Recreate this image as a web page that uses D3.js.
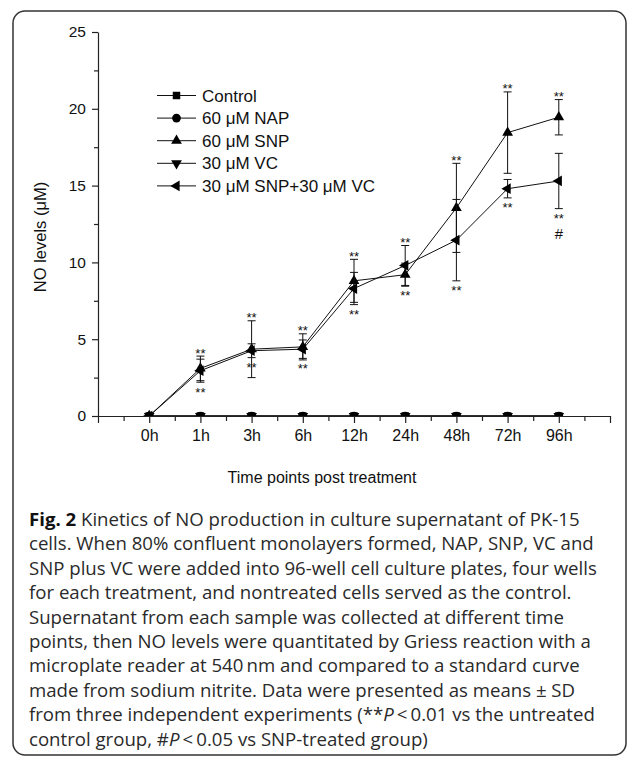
<!DOCTYPE html>
<html>
<head>
<meta charset="utf-8">
<script src="https://cdn.jsdelivr.net/npm/d3@7"></script>
<style>
  body { margin: 0; background: #fff; }
  svg { display: block; }
</style>
</head>
<body>
<svg width="634" height="761"></svg>
<script>
// data
const timePoints = ["0h", "1h", "3h", "6h", "12h", "24h", "48h", "72h", "96h"];
const seriesNames = ["Control", "60 \u03bcM NAP", "60 \u03bcM SNP", "30 \u03bcM VC", "30 \u03bcM SNP+30 \u03bcM VC"];
const controlMean = [0, 0, 0, 0, 0, 0, 0, 0, 0];
const napMean = [0, 0, 0, 0, 0, 0, 0, 0, 0];
const vcMean = [0, 0, 0, 0, 0, 0, 0, 0, 0];
const snpMean = [0, 3.1, 4.35, 4.5, 8.8, 9.2, 13.55, 18.45, 19.45];
const snpSd = [0, 0.8, 1.85, 0.85, 1.4, 0.75, 2.9, 2.65, 1.15];
const snpVcMean = [0, 2.95, 4.25, 4.35, 8.3, 9.8, 11.45, 14.8, 15.3];
const snpVcSd = [0, 0.75, 0.45, 0.6, 1.05, 1.3, 2.65, 0.6, 1.8];
const hashMarks = ["", "", "", "", "", "", "", "", "#"];
const yTicks = [0, 5, 10, 15, 20, 25];

const captionLines = [
  [["b", "Fig. 2"], ["", " Kinetics of NO production in culture supernatant of PK-15"]],
  [["", "cells. When 80% confluent monolayers formed, NAP, SNP, VC and"]],
  [["", "SNP plus VC were added into 96-well cell culture plates, four wells"]],
  [["", "for each treatment, and nontreated cells served as the control."]],
  [["", "Supernatant from each sample was collected at different time"]],
  [["", "points, then NO levels were quantitated by Griess reaction with a"]],
  [["", "microplate reader at 540\u2009nm and compared to a standard curve"]],
  [["", "made from sodium nitrite. Data were presented as means \u00b1 SD"]],
  [["", "from three independent experiments (**"], ["i", "P"], ["", "\u2009<\u20090.01 vs the untreated"]],
  [["", "control group, #"], ["i", "P"], ["", "\u2009<\u20090.05 vs SNP-treated group)"]]
];

const svg = d3.select("svg");
const chartFont = "'Liberation Sans', Arial, sans-serif";

svg.append("rect")
  .attr("x", 13).attr("y", 11)
  .attr("width", 613).attr("height", 744)
  .attr("rx", 12)
  .attr("fill", "none")
  .attr("stroke", "#333")
  .attr("stroke-width", 1.5);

const x = d3.scaleLinear().domain([0, 10]).range([98, 610]);
const y = d3.scaleLinear().domain([0, 25]).range([416, 32]);
const xi = i => x(i + 1);

// axes
const gx = svg.append("g").attr("transform", "translate(0,416)")
  .style("font-family", chartFont);
gx.call(d3.axisBottom(x).tickValues(d3.range(0, 11)).tickSize(7).tickSizeOuter(0)
  .tickPadding(7)
  .tickFormat(d => (d >= 1 && d <= 9) ? timePoints[d - 1] : ""));
gx.append("g").call(d3.axisBottom(x).tickValues(d3.range(0.5, 10, 1)).tickSize(5)
  .tickFormat(""))
  .select(".domain").remove();
gx.selectAll(".tick text").attr("font-size", 16);

const gy = svg.append("g").attr("transform", "translate(98,0)")
  .style("font-family", chartFont);
gy.call(d3.axisLeft(y).tickValues(yTicks).tickSize(6).tickSizeOuter(0).tickPadding(6));
gy.append("g").call(d3.axisLeft(y).tickValues(d3.range(2.5, 25, 5)).tickSize(4)
  .tickFormat(""))
  .select(".domain").remove();
gy.selectAll(".tick text").attr("font-size", 15.5);

svg.selectAll(".tick text").attr("fill", "#111");
svg.selectAll(".domain, .tick line").attr("stroke", "#222").attr("stroke-width", 1.2);

svg.append("text")
  .attr("transform", "translate(46,237) rotate(-90)")
  .attr("text-anchor", "middle")
  .attr("font-family", chartFont).attr("font-size", 16.5).attr("fill", "#111")
  .text("NO levels (\u03bcM)");

svg.append("text")
  .attr("x", 322).attr("y", 483)
  .attr("text-anchor", "middle")
  .attr("font-family", chartFont).attr("font-size", 16).attr("fill", "#111")
  .text("Time points post treatment");

// markers
const sym = {
  square: d3.symbol(d3.symbolSquare, 56)(),
  circle: d3.symbol(d3.symbolCircle, 60)(),
  tri: d3.symbol(d3.symbolTriangle, 50)()
};
const markers = [
  { path: sym.square, rot: 0 },
  { path: sym.circle, rot: 0 },
  { path: sym.tri, rot: 0 },
  { path: sym.tri, rot: 180 },
  { path: sym.tri, rot: -90 }
];

svg.append("clipPath").attr("id", "plotClip")
  .append("rect").attr("x", 98).attr("y", 20).attr("width", 520).attr("height", 396);

const plot = svg.append("g").attr("clip-path", "url(#plotClip)");
const line = d3.line().x((d, i) => xi(i)).y(d => y(d));

const series = [
  { mean: controlMean, sd: null, m: markers[0] },
  { mean: napMean, sd: null, m: markers[1] },
  { mean: vcMean, sd: null, m: markers[3] },
  { mean: snpMean, sd: snpSd, m: markers[2] },
  { mean: snpVcMean, sd: snpVcSd, m: markers[4] }
];

series.forEach(s => {
  if (s.sd) {
    const eb = plot.append("g").attr("stroke", "#111").attr("stroke-width", 1);
    s.mean.forEach((v, i) => {
      if (!s.sd[i]) return;
      const cx = xi(i);
      eb.append("line").attr("x1", cx).attr("x2", cx)
        .attr("y1", y(v - s.sd[i])).attr("y2", y(v + s.sd[i]));
      [v - s.sd[i], v + s.sd[i]].forEach(e => {
        eb.append("line").attr("x1", cx - 4).attr("x2", cx + 4)
          .attr("y1", y(e)).attr("y2", y(e));
      });
    });
  }
  plot.append("path").datum(s.mean)
    .attr("d", line).attr("fill", "none")
    .attr("stroke", "#111").attr("stroke-width", 1);
  plot.selectAll(null).data(s.mean).join("path")
    .attr("d", s.m.path)
    .attr("transform", (d, i) => `translate(${xi(i)},${y(d)}) rotate(${s.m.rot})`)
    .attr("fill", "#000");
});

// significance marks
const sig = svg.append("g").attr("font-family", chartFont).attr("fill", "#111")
  .attr("text-anchor", "middle");
timePoints.forEach((t, i) => {
  if (i === 0) return;
  const top = Math.max(snpMean[i] + snpSd[i], snpVcMean[i] + snpVcSd[i]);
  const bottom = snpVcMean[i] - snpVcSd[i];
  sig.append("text").attr("x", xi(i)).attr("y", y(top) + 1.5)
    .attr("font-size", 13).text("**");
  sig.append("text").attr("x", xi(i)).attr("y", y(bottom) + 14.5)
    .attr("font-size", 13).text("**");
  if (hashMarks[i]) {
    sig.append("text").attr("x", xi(i)).attr("y", y(bottom) + 30)
      .attr("font-size", 15).text(hashMarks[i]);
  }
});

// legend
const legend = svg.append("g").attr("font-family", chartFont);
seriesNames.forEach((name, k) => {
  const ly = 95.5 + k * 22.6;
  legend.append("line").attr("x1", 157).attr("x2", 196)
    .attr("y1", ly).attr("y2", ly).attr("stroke", "#111").attr("stroke-width", 1);
  legend.append("path").attr("d", markers[k].path)
    .attr("transform", `translate(176.5,${ly}) rotate(${markers[k].rot})`)
    .attr("fill", "#000");
  legend.append("text").attr("x", 202).attr("y", ly + 6)
    .attr("font-size", 17).attr("fill", "#111").text(name);
});

// caption
const cap = svg.append("g")
  .attr("font-family", "'Open Sans', sans-serif")
  .attr("font-size", 17).attr("fill", "#2a2a2a");
const capTexts = captionLines.map((parts, k) => {
  const t = cap.append("text").attr("x", 29).attr("y", 526 + k * 24.4);
  parts.forEach(([style, str]) => {
    const ts = t.append("tspan").text(str);
    if (style === "b") ts.attr("font-weight", "bold").attr("fill", "#111");
    if (style === "i") ts.attr("font-style", "italic");
  });
  return t;
});
// fit the caption width to the reference column (line 3 runs to x = 597)
const w3 = capTexts[2].node().getComputedTextLength();
cap.attr("font-size", 17 * 568 / w3);
</script>
</body>
</html>
